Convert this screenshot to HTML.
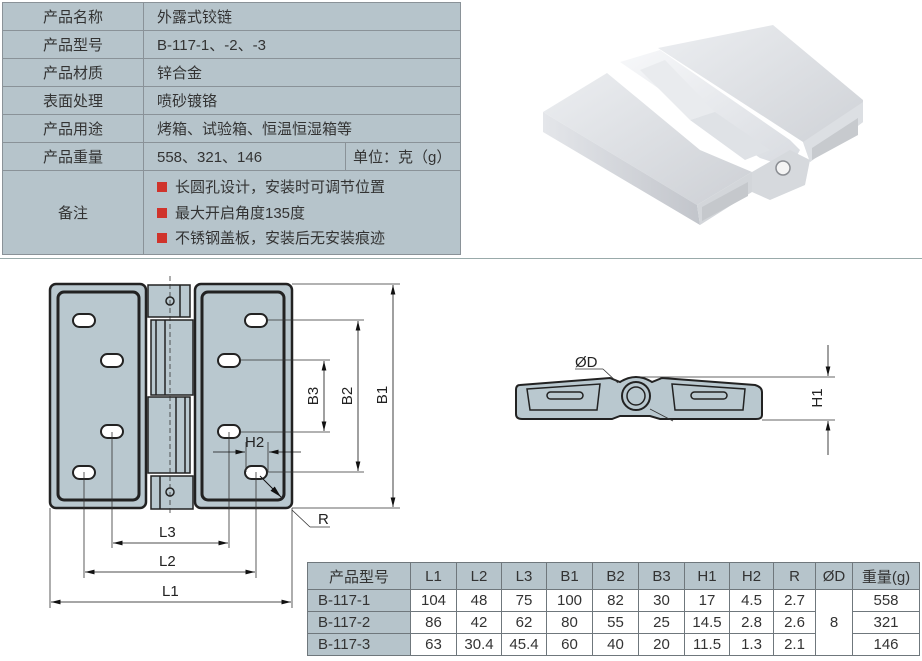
<!DOCTYPE html>
<html><head><meta charset="utf-8"><style>
body{margin:0;width:922px;height:661px;background:#fff;position:relative;overflow:hidden;font-family:"Liberation Sans","Noto Sans CJK SC",sans-serif;}
.t1{position:absolute;left:2px;top:2px;border-collapse:collapse;background:#b6c4cb;font-size:15px;color:#333;}
.t1 td{border:1px solid #8a9298;height:27px;padding:0;}
.t1 td.k{width:140px;text-align:center;}
.t1 td.v{padding-left:13px;}
.sq{display:inline-block;width:10px;height:10px;background:#d0332b;margin-right:8px;vertical-align:0px;}
.t2{position:absolute;left:307px;top:562px;border-collapse:collapse;font-size:15px;color:#333;}
.t2 td{border:1px solid #6f777c;text-align:center;padding:0;height:21px;}
.t2 tr:first-child td{background:#b6c4cb;height:26px;}
.t2 td.m{background:#b6c4cb;text-align:left;padding-left:10px;}
</style></head><body>
<table class="t1">
<tr><td class="k">产品名称</td><td class="v" colspan="2" style="width:303px">外露式铰链</td></tr>
<tr><td class="k">产品型号</td><td class="v" colspan="2">B-117-1、-2、-3</td></tr>
<tr><td class="k">产品材质</td><td class="v" colspan="2">锌合金</td></tr>
<tr><td class="k">表面处理</td><td class="v" colspan="2">喷砂镀铬</td></tr>
<tr><td class="k">产品用途</td><td class="v" colspan="2">烤箱、试验箱、恒温恒湿箱等</td></tr>
<tr><td class="k">产品重量</td><td class="v" style="width:188px">558、321、146</td><td style="padding-left:7px">单位：克（g）</td></tr>
<tr><td class="k" style="height:83px">备注</td><td class="v" colspan="2" style="line-height:25.5px;padding-top:2px"><span class="sq"></span>长圆孔设计，安装时可调节位置<br><span class="sq"></span>最大开启角度135度<br><span class="sq"></span>不锈钢盖板，安装后无安装痕迹</td></tr>
</table>
<div style="position:absolute;left:0;top:258px;width:922px;height:1px;background:#9aa"></div>

<svg width="922" height="661" style="position:absolute;left:0;top:0" font-family="Liberation Sans" font-size="15" fill="none">
<defs>
<marker id="a" markerWidth="12" markerHeight="6" refX="12" refY="3" orient="auto"><path d="M0,0L12,3L0,6z" fill="#111"/></marker>
<marker id="b" markerWidth="12" markerHeight="6" refX="0" refY="3" orient="auto"><path d="M12,0L0,3L12,6z" fill="#111"/></marker>
<linearGradient id="g1" x1="0" y1="0" x2="1" y2="1"><stop offset="0" stop-color="#eceef1"/><stop offset="1" stop-color="#cdd0d5"/></linearGradient>
<linearGradient id="g2" x1="0" y1="0" x2="1" y2="0"><stop offset="0" stop-color="#e4e6ea"/><stop offset="1" stop-color="#c2c5cb"/></linearGradient>
<linearGradient id="g3" x1="0" y1="0" x2="1" y2="1"><stop offset="0" stop-color="#f7f8fa"/><stop offset="1" stop-color="#d8dbe0"/></linearGradient>
</defs>
<!-- photo -->
<polygon points="658,48 773,25 863,100 863,122 810,162 803,142" fill="url(#g1)"/>
<polygon points="803,142 863,102 863,122 810,162" fill="#dcdfe3"/>
<polygon points="812,148 858,118 858,135 812,160" fill="#c7cace"/>
<polygon points="620,62 660,50 790,140 800,150 790,168 760,158" fill="url(#g3)"/>
<polygon points="640,70 665,60 715,112 690,120" fill="#e9ebee"/>
<polygon points="690,120 715,112 770,150 745,160" fill="#dfe2e6"/>
<polygon points="543,112 607,73 700,150 752,172 697,205" fill="url(#g1)"/>
<polygon points="543,112 697,205 700,225 543,132" fill="url(#g2)"/>
<polygon points="697,205 752,172 752,192 700,225" fill="#d3d6da"/>
<polygon points="702,207 748,182 748,196 702,221" fill="#c5c8cc"/>
<polygon points="752,172 790,150 810,160 805,185 770,200 752,192" fill="#d6d9dd"/>
<circle cx="783" cy="168" r="7" fill="#f4f4f4" stroke="#8a8d92" stroke-width="1.5"/>
<!-- plan view -->
<g stroke="#222" stroke-width="2.5" fill="#b9c8cf">
<rect x="50" y="284" width="96" height="224" rx="6"/>
<rect x="58" y="292" width="81" height="208" rx="6" stroke-width="3"/>
<rect x="195" y="284" width="97" height="224" rx="6"/>
<rect x="202" y="292" width="82" height="208" rx="6" stroke-width="3"/>
</g>
<g stroke="#222" stroke-width="1.5" fill="#b9c8cf">
<rect x="148" y="285" width="42" height="32"/>
<rect x="151" y="320" width="42" height="75"/>
<rect x="148" y="397" width="42" height="76"/>
<rect x="151" y="476" width="42" height="33"/>
<line x1="156" y1="320" x2="156" y2="395"/><line x1="165" y1="320" x2="165" y2="395"/>
<line x1="176" y1="397" x2="176" y2="473"/><line x1="185" y1="397" x2="185" y2="473"/>
<line x1="180" y1="285" x2="180" y2="317"/><line x1="160" y1="476" x2="160" y2="509"/>
<circle cx="170" cy="301" r="4"/><circle cx="170" cy="492" r="4"/>
</g>
<line x1="170" y1="276" x2="170" y2="515" stroke="#333" stroke-dasharray="5,3" stroke-width="0.8"/>
<g fill="#fff" stroke="#222" stroke-width="2">
<rect x="73" y="314" width="22" height="13" rx="6.5"/><rect x="101" y="354" width="22" height="13" rx="6.5"/>
<rect x="101" y="425" width="22" height="13" rx="6.5"/><rect x="73" y="466" width="22" height="13" rx="6.5"/>
<rect x="245" y="314" width="22" height="13" rx="6.5"/><rect x="218" y="354" width="22" height="13" rx="6.5"/>
<rect x="218" y="425" width="22" height="13" rx="6.5"/><rect x="245" y="466" width="22" height="13" rx="6.5"/>
</g>
<g stroke="#333" stroke-width="0.8">
<line x1="292" y1="284" x2="400" y2="284"/><line x1="292" y1="508" x2="400" y2="508"/>
<line x1="267" y1="320" x2="364" y2="320"/><line x1="267" y1="472" x2="364" y2="472"/>
<line x1="240" y1="360" x2="330" y2="360"/><line x1="240" y1="432" x2="330" y2="432"/>
<line x1="50" y1="508" x2="50" y2="608"/><line x1="292" y1="508" x2="292" y2="608"/>
<line x1="84" y1="472" x2="84" y2="578"/><line x1="256" y1="472" x2="256" y2="578"/>
<line x1="112" y1="432" x2="112" y2="548"/><line x1="229" y1="432" x2="229" y2="548"/>
<line x1="246" y1="442" x2="246" y2="472"/><line x1="268" y1="442" x2="268" y2="472"/>
<line x1="292" y1="510" x2="310" y2="527"/><line x1="310" y1="527" x2="330" y2="527"/>
</g>
<g stroke="#111" stroke-width="0.8">
<line x1="393" y1="285" x2="393" y2="507" marker-start="url(#b)" marker-end="url(#a)"/>
<line x1="358" y1="321" x2="358" y2="471" marker-start="url(#b)" marker-end="url(#a)"/>
<line x1="324" y1="361" x2="324" y2="431" marker-start="url(#b)" marker-end="url(#a)"/>
<line x1="51" y1="602" x2="291" y2="602" marker-start="url(#b)" marker-end="url(#a)"/>
<line x1="85" y1="572" x2="255" y2="572" marker-start="url(#b)" marker-end="url(#a)"/>
<line x1="113" y1="543" x2="228" y2="543" marker-start="url(#b)" marker-end="url(#a)"/>
<line x1="213" y1="452" x2="245" y2="452" marker-end="url(#a)"/>
<line x1="301" y1="452" x2="269" y2="452" marker-end="url(#a)"/>
<line x1="260" y1="476" x2="281" y2="497" marker-end="url(#a)" stroke-width="1"/>
</g>
<g fill="#222" stroke="none">
<text x="387" y="395" transform="rotate(-90 387 395)" text-anchor="middle">B1</text>
<text x="352" y="396" transform="rotate(-90 352 396)" text-anchor="middle">B2</text>
<text x="318" y="396" transform="rotate(-90 318 396)" text-anchor="middle">B3</text>
<text x="245" y="447">H2</text>
<text x="159" y="537">L3</text>
<text x="159" y="566">L2</text>
<text x="162" y="596">L1</text>
<text x="318" y="524">R</text>
<text x="575" y="367">ØD</text>
<text x="822" y="398" transform="rotate(-90 822 398)" text-anchor="middle">H1</text>
</g>
<!-- side view -->
<g stroke="#222" stroke-width="2" fill="#b9c8cf">
<path d="M520,385 L610,378 L620,382 Q636,372 652,382 L662,378 L755,385 Q762,387 762,392 L762,415 Q762,419 756,419 L660,419 L650,416 L620,416 L612,419 L522,419 Q516,419 516,414 L516,390 Q516,385 520,385z"/>
<path d="M527,389 L600,384 L597,410 L530,410z" stroke-width="1.5"/>
<path d="M672,384 L745,389 L743,410 L675,410z" stroke-width="1.5"/>
<rect x="547" y="392" width="36" height="7" rx="3.5" fill="#b9c8cf" stroke-width="1.5"/>
<rect x="691" y="392" width="36" height="7" rx="3.5" fill="#b9c8cf" stroke-width="1.5"/>
<circle cx="636" cy="396" r="14"/><circle cx="636" cy="396" r="9" stroke-width="1.5"/>
</g>
<g stroke="#333" stroke-width="0.8">
<line x1="575" y1="369" x2="603" y2="369"/><line x1="603" y1="369" x2="618" y2="383"/>
<line x1="650" y1="409" x2="673" y2="421"/>
<line x1="640" y1="377" x2="835" y2="377"/><line x1="762" y1="420" x2="835" y2="420"/>
</g>
<line x1="828" y1="345" x2="828" y2="376" stroke="#111" stroke-width="0.8" marker-end="url(#a)"/>
<line x1="828" y1="455" x2="828" y2="421" stroke="#111" stroke-width="0.8" marker-end="url(#a)"/>
</svg>

<table class="t2">
<tr><td style="width:102px">产品型号</td><td style="width:45px">L1</td><td style="width:44px">L2</td><td style="width:44px">L3</td><td style="width:45px">B1</td><td style="width:45px">B2</td><td style="width:45px">B3</td><td style="width:44px">H1</td><td style="width:43px">H2</td><td style="width:41px">R</td><td style="width:36px">ØD</td><td style="width:66px">重量(g)</td></tr>
<tr><td class="m">B-117-1</td><td>104</td><td>48</td><td>75</td><td>100</td><td>82</td><td>30</td><td>17</td><td>4.5</td><td>2.7</td><td rowspan="3">8</td><td>558</td></tr>
<tr><td class="m">B-117-2</td><td>86</td><td>42</td><td>62</td><td>80</td><td>55</td><td>25</td><td>14.5</td><td>2.8</td><td>2.6</td><td>321</td></tr>
<tr><td class="m">B-117-3</td><td>63</td><td>30.4</td><td>45.4</td><td>60</td><td>40</td><td>20</td><td>11.5</td><td>1.3</td><td>2.1</td><td>146</td></tr>
</table>
</body></html>
